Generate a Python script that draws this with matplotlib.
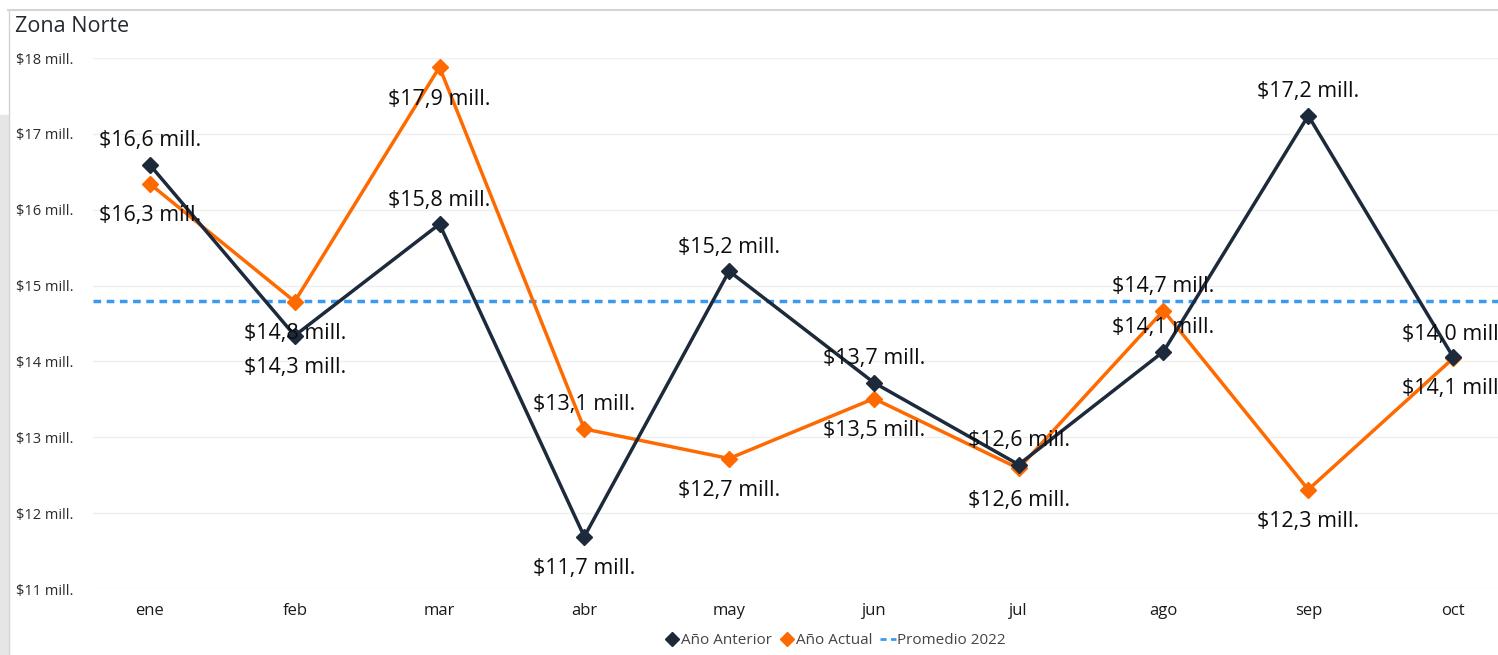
import matplotlib
matplotlib.use("Agg")
import matplotlib.pyplot as plt
from matplotlib.lines import Line2D
from matplotlib.patches import Rectangle

plt.rcParams['font.family'] = ['Open Sans', 'DejaVu Sans']

meses = ["ene", "feb", "mar", "abr", "may", "jun", "jul", "ago", "sep", "oct"]
anio_anterior = [16.59, 14.34, 15.81, 11.69, 15.19, 13.72, 12.64, 14.13, 17.24, 14.06]
anio_actual = [16.34, 14.79, 17.88, 13.11, 12.72, 13.51, 12.59, 14.67, 12.31, 14.04]
promedio_2022 = 14.8
y_ticks = [11, 12, 13, 14, 15, 16, 17, 18]

# label placement: +1 above the point, -1 below
pos_anterior = [1, -1, 1, -1, 1, 1, 1, 1, 1, -1]
pos_actual = [-1, -1, -1, 1, -1, -1, -1, 1, -1, 1]

c_dark = "#1c2a3b"
c_orange = "#ff6a00"
c_blue = "#3b9af0"

W, H = 1498, 655
fig = plt.figure(figsize=(W / 100, H / 100), dpi=100)

# panel frame / background bits
fig.patches.append(Rectangle((0, 0), 8 / W, (H - 115) / H, transform=fig.transFigure,
                             color="#e6e6e6", zorder=0))
fig.add_artist(Line2D([8 / W, 1], [1 - 9.5 / H, 1 - 9.5 / H], transform=fig.transFigure,
                      color="#d4d4d4", lw=1.5))
fig.add_artist(Line2D([8.5 / W, 8.5 / W], [0, 1 - 9.5 / H], transform=fig.transFigure,
                      color="#d4d4d4", lw=1))

ax = fig.add_axes([93 / W, 1 - 589 / H, (W - 93) / W, 531 / H])
x = list(range(len(meses)))
ax.set_xlim(-57 / 145, 9 + 45 / 145)
ax.set_ylim(11, 18)

ax.axhline(promedio_2022, color=c_blue, lw=2.5, ls=(0, (2.2, 1.6)), zorder=2)
ax.plot(x, anio_actual, color=c_orange, lw=2.5, marker="D", ms=8, zorder=3)
ax.plot(x, anio_anterior, color=c_dark, lw=2.5, marker="D", ms=8, zorder=4)


def fmt(v):
    return "$" + ("%.1f" % v).replace(".", ",") + " mill."


for vals, poss in ((anio_anterior, pos_anterior), (anio_actual, pos_actual)):
    for xi, v, p in zip(x, vals, poss):
        off = 24 if p > 0 else -32
        ax.annotate(fmt(v), (xi, v), xytext=(0, off), textcoords="offset pixels",
                    ha="center", va="center", fontsize=15.5, color="#0d0d0d",
                    zorder=6, annotation_clip=False)

ax.set_yticks(y_ticks)
ax.set_yticklabels(["$%d mill." % t for t in y_ticks])
ax.set_xticks(x)
ax.set_xticklabels(meses)
ax.tick_params(axis="y", length=0, labelsize=10.5, labelcolor="#2b2b2b", pad=77 * 0.72)
ax.tick_params(axis="x", length=0, labelsize=12, labelcolor="#1a1a1a", pad=10)
for lbl in ax.get_yticklabels():
    lbl.set_horizontalalignment("left")
ax.grid(axis="y", color="#efefef", lw=1)
for s in ax.spines.values():
    s.set_visible(False)

fig.text(15 / W, 1 - 27 / H, "Zona Norte", fontsize=15.5, color="#252a31", va="center", ha="left")

handles = [
    Line2D([], [], color=c_dark, marker="D", ls="none", ms=7),
    Line2D([], [], color=c_orange, marker="D", ls="none", ms=7),
    Line2D([], [], color=c_blue, ls=(0, (2.2, 1.6)), lw=2),
]
leg = fig.legend(handles, ["Año Anterior", "Año Actual", "Promedio 2022"], loc="center",
                 bbox_to_anchor=(835 / W, 1 - 641 / H), ncol=3, frameon=False,
                 fontsize=11, handlelength=1.0, handletextpad=0.1, columnspacing=0.5)
for t in leg.get_texts():
    t.set_color("#444444")

fig.savefig("out.png", dpi=100)
